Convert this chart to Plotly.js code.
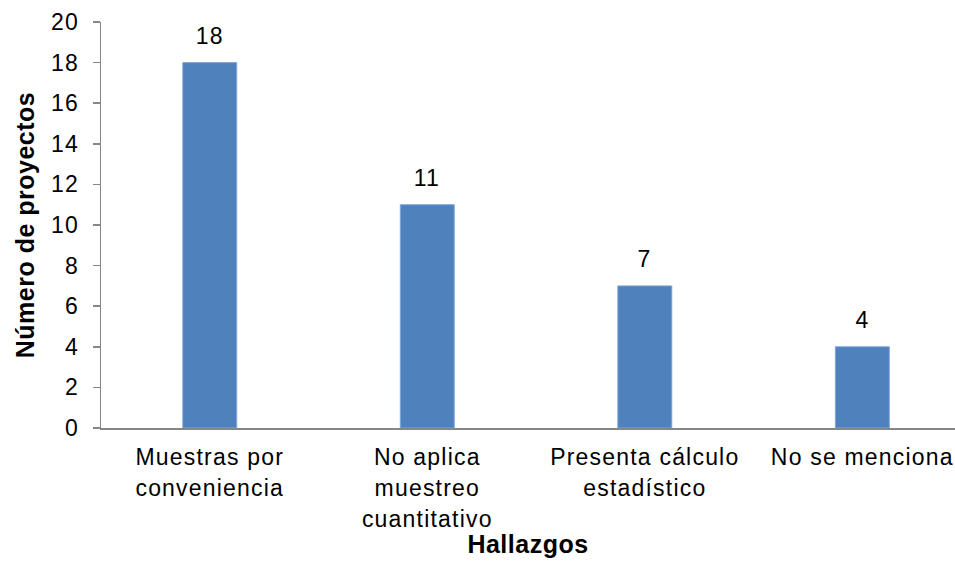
<!DOCTYPE html>
<html>
<head>
<meta charset="utf-8">
<script src="https://cdn.plot.ly/plotly-3.0.1.min.js"></script>
<style>
html,body{margin:0;padding:0;background:#fff}
#chart{width:955px;height:570px}
#chart .xtick text, #chart .ytick text, #chart .annotation-text { letter-spacing: 1.2px; }
#chart .ytick text { translate: -9px 0; }
#chart .g-xtitle text, #chart .g-ytitle text { letter-spacing: 0.5px; }
</style>
</head>
<body>
<div id="chart"></div>
<script>
const categories = ["Muestras por<br>conveniencia", "No aplica<br>muestreo<br>cuantitativo", "Presenta cálculo<br>estadístico", "No se menciona"];
const values = [18, 11, 7, 4];
const yTicks = [0, 2, 4, 6, 8, 10, 12, 14, 16, 18, 20];

const FONT = "Liberation Sans, Arial, sans-serif";

const trace = {
  type: "bar",
  x: categories,
  y: values,
  marker: {color: "#4F81BD", line: {color: "#7FA6D6", width: 1}},
  hoverinfo: "none"
};

const annotations = values.map((v, i) => ({
  x: categories[i], y: v, xref: "x", yref: "y",
  text: String(v), showarrow: false, yanchor: "bottom", yshift: 12,
  font: {family: FONT, size: 23, color: "#000"}
}));

const layout = {
  width: 955, height: 570,
  margin: {l: 101, r: 0, t: 22, b: 142},
  paper_bgcolor: "#fff", plot_bgcolor: "#fff",
  bargap: 0.752,
  showlegend: false,
  font: {family: FONT, size: 23, color: "#000"},
  xaxis: {
    type: "category",
    range: [-0.5, 3.426],
    showline: true, linecolor: "#868686", linewidth: 1.5,
    ticks: "", showgrid: false, zeroline: false,
    ticklabelstandoff: 8,
    tickfont: {family: FONT, size: 23, color: "#000"},
    title: {text: "<b>Hallazgos</b>", font: {family: FONT, size: 25, color: "#000"}, standoff: 5}
  },
  yaxis: {
    range: [0, 20],
    tickvals: yTicks, ticktext: yTicks.map(String),
    showline: true, linecolor: "#868686", linewidth: 1.5,
    ticks: "outside", ticklen: 7, tickcolor: "#868686", tickwidth: 1.5,
    showgrid: false, zeroline: false,
    tickfont: {family: FONT, size: 23, color: "#000"},
    title: {text: "<b>Número de proyectos</b>", font: {family: FONT, size: 25, color: "#000"}, standoff: 20}
  },
  annotations: annotations
};

Plotly.newPlot("chart", [trace], layout, {staticPlot: true, displayModeBar: false}).then(gd => {
  gd.querySelectorAll(".xtick text tspan.line").forEach(t => {
    const dy = parseFloat(t.getAttribute("dy"));
    if (dy) t.setAttribute("dy", (dy * 1.35 / 1.3) + "em");
  });
});
</script>
</body>
</html>
